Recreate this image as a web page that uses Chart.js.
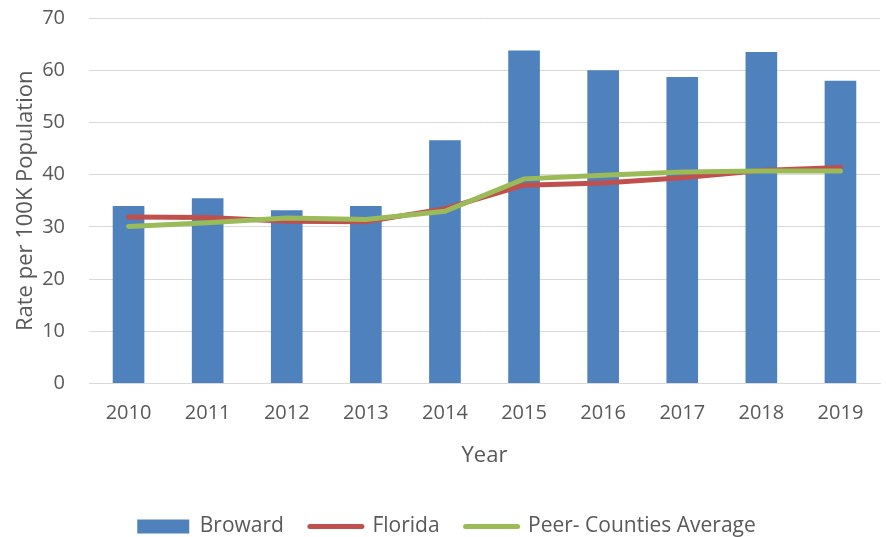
<!DOCTYPE html>
<html>
<head>
<meta charset="utf-8">
<script src="https://cdn.jsdelivr.net/npm/chart.js@4.4.0/dist/chart.umd.min.js"></script>
<style>
  html, body { margin: 0; padding: 0; background: #fff; }
  #wrap { width: 886px; height: 537px; }
</style>
</head>
<body>
<div id="wrap"><canvas id="rateChart" width="886" height="537"></canvas></div>
<script>
// values
const years = ['2010', '2011', '2012', '2013', '2014', '2015', '2016', '2017', '2018', '2019'];
const broward = [34.0, 35.5, 33.2, 34.0, 46.6, 63.8, 60.0, 58.7, 63.5, 58.0];
const florida = [31.9, 31.8, 31.1, 31.0, 33.5, 38.0, 38.4, 39.4, 40.8, 41.4];
const peerAverage = [30.1, 30.8, 31.7, 31.4, 33.0, 39.2, 39.9, 40.5, 40.7, 40.7];

const textColor = '#595959';
const gridColor = '#D9D9D9';
const fontFamily = '"Open Sans", sans-serif';

Chart.defaults.font.family = fontFamily;
Chart.defaults.color = textColor;

const ctx = document.getElementById('rateChart').getContext('2d');
const rateChart = new Chart(ctx, {
    type: 'bar',
    data: {
        labels: years,
        datasets: [
            {
                label: 'Broward',
                data: broward,
                backgroundColor: '#4F81BD',
                barPercentage: 0.4,
                categoryPercentage: 1.0,
                order: 3
            },
            {
                type: 'line',
                label: 'Florida',
                data: florida,
                borderColor: '#C0504D',
                backgroundColor: '#C0504D',
                borderWidth: 5,
                borderCapStyle: 'round',
                pointRadius: 0,
                tension: 0,
                order: 2
            },
            {
                type: 'line',
                label: 'Peer- Counties Average',
                data: peerAverage,
                borderColor: '#9BBB59',
                backgroundColor: '#9BBB59',
                borderWidth: 5,
                borderCapStyle: 'round',
                pointRadius: 0,
                tension: 0,
                order: 1
            }
        ]
    },
    options: {
        responsive: false,
        animation: false,
        layout: {
            padding: { top: 18, right: 6, left: 13, bottom: -10 }
        },
        scales: {
            x: {
                grid: { display: false },
                border: { color: gridColor, width: 1 },
                ticks: { font: { size: 20 }, color: textColor, padding: 10 },
                title: {
                    display: true,
                    text: 'Year',
                    font: { size: 22 },
                    color: textColor,
                    padding: { top: 7, bottom: 21 }
                }
            },
            y: {
                min: 0,
                max: 70,
                ticks: { stepSize: 10, font: { size: 20 }, color: textColor, padding: 24 },
                grid: { color: gridColor, lineWidth: 1, drawTicks: false },
                border: { display: false },
                title: {
                    display: true,
                    text: 'Rate per 100K Population',
                    font: { size: 22 },
                    color: textColor,
                    padding: { top: 0, bottom: 0 }
                },
                // pin the axis width so the plot starts where the reference does
                afterFit: function (scale) {
                    scale.width = 76;
                    scale.paddingTop = 9;
                    scale.paddingBottom = 9;
                }
            }
        },
        plugins: {
            tooltip: { enabled: false },
            legend: {
                position: 'bottom',
                labels: {
                    font: { size: 21 },
                    color: textColor,
                    usePointStyle: true,
                    pointStyleWidth: 52,
                    boxHeight: 14,
                    padding: 26,
                    // keep dataset order, bar as a box, lines as strokes
                    generateLabels: function (chart) {
                        return chart.data.datasets.map(function (ds, i) {
                            const isBar = i === 0;
                            return {
                                text: ds.label,
                                datasetIndex: i,
                                fillStyle: ds.backgroundColor,
                                strokeStyle: ds.borderColor || ds.backgroundColor,
                                lineWidth: isBar ? 0 : 5,
                                lineCap: 'round',
                                pointStyle: isBar ? 'rect' : 'line',
                                fontColor: textColor,
                                hidden: false
                            };
                        });
                    }
                }
            }
        }
    }
});
</script>
</body>
</html>
